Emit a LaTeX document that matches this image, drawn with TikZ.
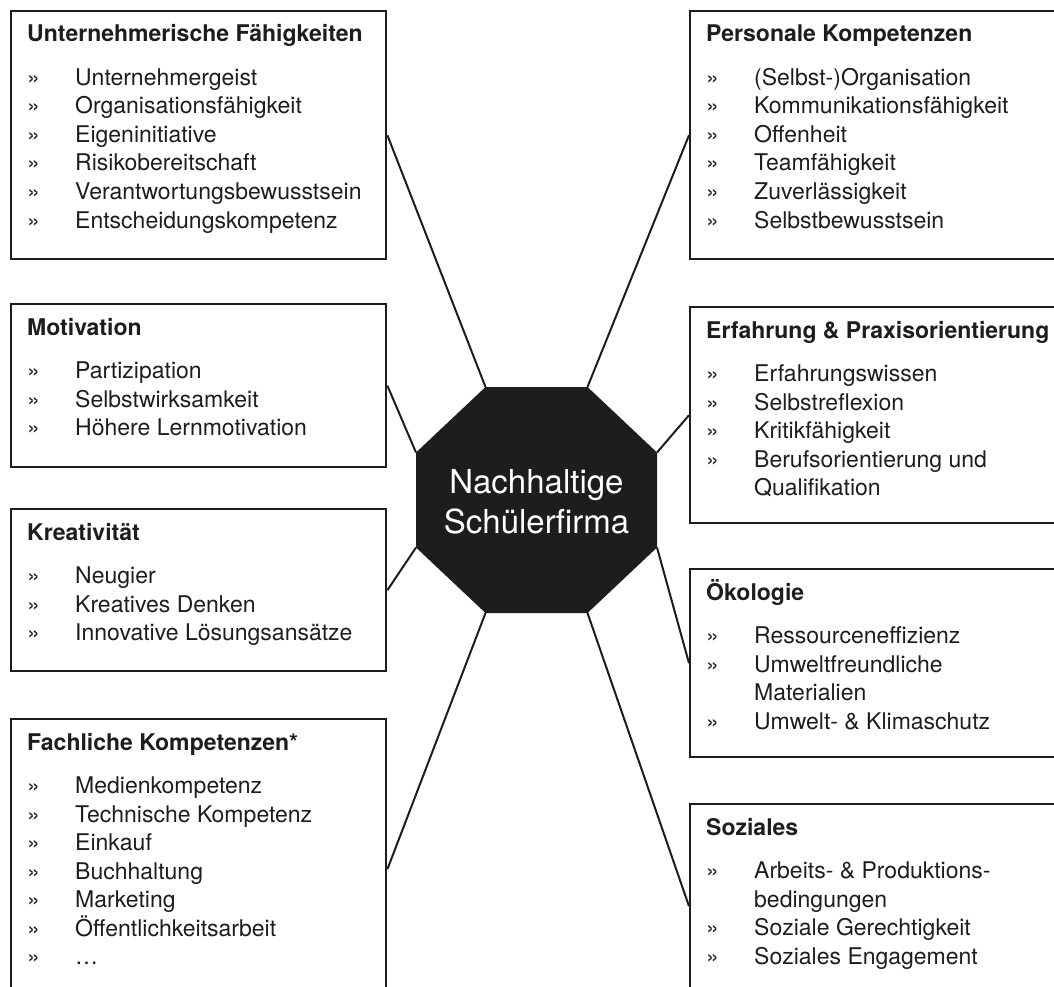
\documentclass[tikz,border=0pt]{standalone}
\usepackage{fontspec}
\setmainfont{TeX Gyre Heros}
\usetikzlibrary{calc}
\definecolor{Ink}{HTML}{1D1D1B}

\tikzset{
  panel/.style={draw=Ink,line width=2.4pt,anchor=north west,inner sep=0pt},
  head/.style={anchor=base west,inner sep=0pt,text=Ink,font=\bfseries\fontsize{23}{27}\selectfont},
  entry/.style={anchor=base west,inner sep=0pt,text=Ink,font=\fontsize{23}{28}\selectfont},
  hubtext/.style={inner sep=0pt,text=white,align=center,font=\fontsize{33}{40}\selectfont},
  spoke/.style={draw=Ink,line width=2pt},
}

% title and list of one panel; flag 0 = wrapped line without marker
\newcommand{\fillpanel}[3]{%
  \node[head] (#1-head) at ($(#1.north west)+(17,32)$) {#2};
  \foreach \b/\lab [count=\i] in {#3}{
    \ifnum\b=1
      \node[entry] (#1-mark-\i) at ($(#1.north west)+(17,47+28.5*\i)$) {»};
    \fi
    \node[entry] (#1-item-\i) at ($(#1.north west)+(65,47+28.5*\i)$) {\lab};
  }
}

\begin{document}
\begin{tikzpicture}[x=1pt,y=-1pt]
  \path[use as bounding box] (0,0) rectangle (1054,987);
  \clip (0,0) rectangle (1054,987);

  % left column
  \node[panel,minimum width=375pt,minimum height=248pt] (uf) at (10,10) {};
  \node[panel,minimum width=375pt,minimum height=163pt] (mot) at (10,303) {};
  \node[panel,minimum width=375pt,minimum height=162pt] (kre) at (10,508) {};
  \node[panel,minimum width=375pt,minimum height=300pt] (fach) at (10,718) {};
  % right column
  \node[panel,minimum width=400pt,minimum height=248pt] (pk) at (689,10) {};
  \node[panel,minimum width=400pt,minimum height=216pt] (erf) at (689,306) {};
  \node[panel,minimum width=400pt,minimum height=188pt] (oek) at (689,568) {};
  \node[panel,minimum width=400pt,minimum height=204pt] (soz) at (689,803) {};

  \fillpanel{uf}{Unternehmerische Fähigkeiten}{1/Unternehmergeist,1/Organisationsfähigkeit,
    1/Eigeninitiative,1/Risikobereitschaft,1/Verantwortungsbewusstsein,1/Entscheidungskompetenz}
  \fillpanel{mot}{Motivation}{1/Partizipation,1/Selbstwirksamkeit,1/Höhere Lernmotivation}
  \fillpanel{kre}{Kreativität}{1/Neugier,1/Kreatives Denken,1/Innovative Lösungsansätze}
  \fillpanel{fach}{Fachliche Kompetenzen*}{1/Medienkompetenz,1/Technische Kompetenz,1/Einkauf,
    1/Buchhaltung,1/Marketing,1/Öffentlichkeitsarbeit,1/\ldots}
  \fillpanel{pk}{Personale Kompetenzen}{1/(Selbst-)Organisation,1/Kommunikationsfähigkeit,
    1/Offenheit,1/Teamfähigkeit,1/Zuverlässigkeit,1/Selbstbewusstsein}
  \fillpanel{erf}{Erfahrung \& Praxisorientierung}{1/Erfahrungswissen,1/Selbstreflexion,
    1/Kritikfähigkeit,1/Berufsorientierung und,0/Qualifikation}
  \fillpanel{oek}{Ökologie}{1/Ressourceneffizienz,1/Umweltfreundliche,0/Materialien,
    1/Umwelt- \& Klimaschutz}
  \fillpanel{soz}{Soziales}{1/Arbeits- \& Produktions-,0/bedingungen,1/Soziale Gerechtigkeit,
    1/Soziales Engagement}

  % octagon corners, clockwise from top left
  \foreach \n/\px/\py in {tl/485.5/387,tr/587.5/387,ru/657/452.5,rl/657/547.5,
                          br/587.5/613,bl/485.5/613,ll/416/547.5,lu/416/452.5}
    \coordinate (hub-\n) at (\px,\py);
  \fill[Ink] (hub-tl) -- (hub-tr) -- (hub-ru) -- (hub-rl) -- (hub-br) -- (hub-bl)
    -- (hub-ll) -- (hub-lu) -- cycle;
  \node[hubtext] (firma) at (536.5,502) {Nachhaltige\\Schülerfirma};

  \draw[spoke] (hub-tl) -- (uf.east);
  \draw[spoke] (hub-lu) -- (mot.east);
  \draw[spoke] (hub-ll) -- (kre.east);
  \draw[spoke] (hub-bl) -- (fach.east);
  \draw[spoke] (hub-tr) -- (pk.west);
  \draw[spoke] (hub-ru) -- (erf.west);
  \draw[spoke] (hub-rl) -- (oek.west);
  \draw[spoke] (hub-br) -- (soz.west);
\end{tikzpicture}
\end{document}
